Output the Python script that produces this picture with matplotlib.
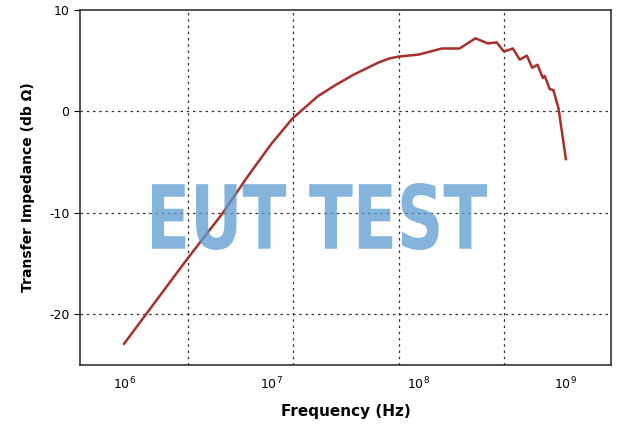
import numpy as np
import matplotlib
matplotlib.use("Agg")
import matplotlib.pyplot as plt
from matplotlib.textpath import TextPath
from matplotlib.patches import PathPatch
from matplotlib.font_manager import FontProperties
from matplotlib.transforms import Affine2D, IdentityTransform

log_freq = [6.0, 6.426, 6.666, 6.835, 7.0, 7.143, 7.316, 7.436, 7.556, 7.725, 7.797, 7.862, 8.0, 8.158, 8.278, 8.386,
            8.47, 8.53, 8.579, 8.64, 8.687, 8.735, 8.771, 8.807, 8.843, 8.856, 8.89, 8.915, 8.95, 9.0]
impedance = [-22.9, -14.6, -10.1, -6.5, -3.2, -0.7, 1.5, 2.6, 3.6, 4.8, 5.2, 5.4, 5.6, 6.2, 6.2, 7.2,
             6.7, 6.8, 5.9, 6.2, 5.1, 5.5, 4.3, 4.6, 3.3, 3.5, 2.2, 2.1, 0.3, -4.7]
grid_x = [2.7e6, 1.4e7, 7.4e7, 3.8e8]
yticks = [10, 0, -10, -20]

freq = 10 ** np.array(log_freq)

fig = plt.figure(figsize=(6.23, 4.32), dpi=100)
ax = fig.add_axes([0.128, 0.155, 0.853, 0.822])
ax.plot(freq, impedance, color="#a8302a", lw=1.8, zorder=3)
ax.set_xscale("log")
ax.set_xlim(5e5, 2.03e9)
ax.set_ylim(-25, 10)
ax.set_xticks([1e6, 1e7, 1e8, 1e9])
ax.xaxis.set_minor_locator(matplotlib.ticker.NullLocator())
ax.set_yticks(yticks)
ax.set_yticklabels([str(v) for v in yticks])
for g in grid_x:
    ax.axvline(g, color="#333333", ls=(0, (2, 3)), lw=0.9, zorder=1)
for v in yticks[1:]:
    ax.axhline(v, color="#333333", ls=(0, (2, 3)), lw=0.9, zorder=1)
ax.tick_params(axis="x", length=0, labelsize=9, pad=8)
ax.tick_params(axis="y", length=4, labelsize=9)
for s in ax.spines.values():
    s.set_linewidth(1.2)
    s.set_color("#333333")
ax.set_xlabel("Frequency (Hz)", fontsize=11, fontweight="bold", labelpad=8)
ax.set_ylabel("Transfer Impedance (db Ω)", fontsize=10, fontweight="bold", labelpad=10)

# watermark, fit into pixel box
tp = TextPath((0, 0), "EUT TEST", size=100, prop=FontProperties(family="DejaVu Sans", weight="bold"))
bb = tp.get_extents()
x0, x1, y0, y1 = 152, 487, 432 - 250, 432 - 183
tr = Affine2D().translate(-bb.x0, -bb.y0).scale((x1 - x0) / bb.width, (y1 - y0) / bb.height).translate(x0, y0)
patch = PathPatch(tr.transform_path(tp), facecolor="#5b9bd0", edgecolor="none", alpha=0.75,
                  transform=IdentityTransform(), zorder=5)
fig.patches.append(patch)
patch.set_figure(fig)
fig.savefig("out.png", dpi=100)
